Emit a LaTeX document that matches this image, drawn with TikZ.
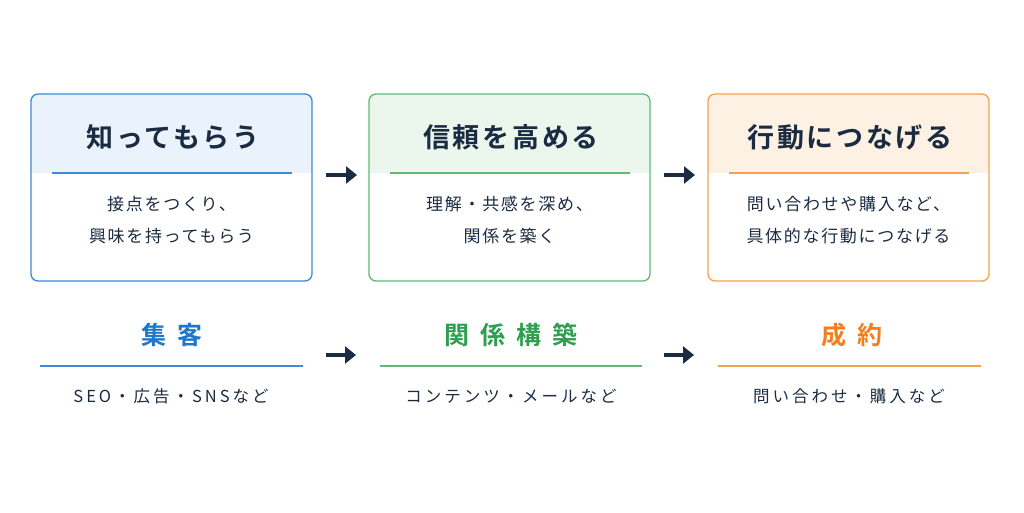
\documentclass[tikz,border=0pt]{standalone}
\usepackage{fontspec}
\setmainfont{Noto Sans CJK JP}
\newfontfamily\jpbold{Noto Sans CJK JP Bold}
\newfontfamily\jptitle[LetterSpace=10]{Noto Sans CJK JP Bold}
\newfontfamily\jpbody[LetterSpace=10]{Noto Sans CJK JP}
\newfontfamily\jpsub[LetterSpace=18]{Noto Sans CJK JP}
\usetikzlibrary{arrows.meta}
\definecolor{navy}{HTML}{1B2B42}
\definecolor{bluebd}{HTML}{3A8BDC}
\definecolor{bluefl}{HTML}{EAF2FC}
\definecolor{bluetx}{HTML}{1F77C9}
\definecolor{greenbd}{HTML}{5DBB73}
\definecolor{greenfl}{HTML}{EBF6ED}
\definecolor{greentx}{HTML}{2E9E4F}
\definecolor{orangebd}{HTML}{F5A24C}
\definecolor{orangefl}{HTML}{FDF1E3}
\definecolor{orangetx}{HTML}{F27F1F}
\newcommand{\gp}{\hspace{11pt}}
\tikzset{
  card/.style={draw=#1, line width=1.3pt, rounded corners=7pt, minimum width=281pt, minimum height=187pt, inner sep=0pt},
  ttl/.style={text=navy, font=\jptitle\fontsize{27}{32}\selectfont},
  body/.style={text=navy, font=\jpbody\fontsize{17}{32}\selectfont, align=center},
  lbl/.style={text=#1, font=\jpbold\fontsize{25}{28}\selectfont},
  sub/.style={text=navy, font=\jpsub\fontsize{16.5}{20}\selectfont},
  flow/.style={draw=navy, line width=4.5pt, -{Triangle[length=11pt,width=17pt]}},
}
\begin{document}
\begin{tikzpicture}[x=1pt,y=-1pt]
\useasboundingbox (0,0) rectangle (1024,512);
% header fills
\foreach \xl/\fl in {31/bluefl,369/greenfl,708/orangefl}{
  \begin{scope}
    \clip[rounded corners=7pt] (\xl,94) rectangle ++(281,187);
    \fill[\fl] (\xl,94) rectangle ++(281,79);
  \end{scope}
}
\node[card=bluebd] (c1) at (171.5,187.5) {};
\node[card=greenbd] (c2) at (509.5,187.5) {};
\node[card=orangebd] (c3) at (848.5,187.5) {};
% dividers
\draw[bluebd, line width=1.3pt] (52,173) -- (292,173);
\draw[greenbd, line width=1.3pt] (390,173) -- (630,173);
\draw[orangebd, line width=1.3pt] (729,173) -- (969,173);
% titles
\node[ttl] (t1) at (173,137) {知ってもらう};
\node[ttl] (t2) at (511,137) {信頼を高める};
\node[ttl] (t3) at (850,137) {行動につなげる};
% body
\node[body] (b1) at (171.5,220) {接点をつくり、\\興味を持ってもらう};
\node[body] (b2) at (509.5,220) {理解・共感を深め、\\関係を築く};
\node[body] (b3) at (848.5,220) {問い合わせや購入など、\\具体的な行動につなげる};
% arrows top
\coordinate (e1) at (312,175); \coordinate (w2) at (369,175);
\coordinate (e2) at (651,175); \coordinate (w3) at (708,175);
\draw[flow, shorten <=14pt, shorten >=12pt] (e1) -- (w2);
\draw[flow, shorten <=13pt, shorten >=13pt] (e2) -- (w3);
% bottom labels
\node[lbl=bluetx] (l1) at (172,335) {集\gp 客};
\node[lbl=greentx] (l2) at (510.5,335) {関\gp 係\gp 構\gp 築};
\node[lbl=orangetx] (l3) at (852,335) {成\gp 約};
% bottom lines
\coordinate (u1a) at (40,366); \coordinate (u1b) at (303,366);
\coordinate (u2a) at (380,366); \coordinate (u2b) at (642,366);
\coordinate (u3a) at (718,366); \coordinate (u3b) at (981,366);
\draw[bluebd, line width=1.6pt] (u1a) -- (u1b);
\draw[greenbd, line width=1.6pt] (u2a) -- (u2b);
\draw[orangebd, line width=1.6pt] (u3a) -- (u3b);
% sub
\node[sub] (s1) at (171,396) {SEO・広告・SNSなど};
\node[sub] (s2) at (511,396) {コンテンツ・メールなど};
\node[sub] (s3) at (849,396) {問い合わせ・購入など};
% bottom arrows
\coordinate (a1) at (303,355); \coordinate (a2) at (380,355);
\coordinate (a3) at (642,355); \coordinate (a4) at (718,355);
\draw[flow, shorten <=23pt, shorten >=24pt] (a1) -- (a2);
\draw[flow, shorten <=22pt, shorten >=24pt] (a3) -- (a4);
\end{tikzpicture}
\end{document}
